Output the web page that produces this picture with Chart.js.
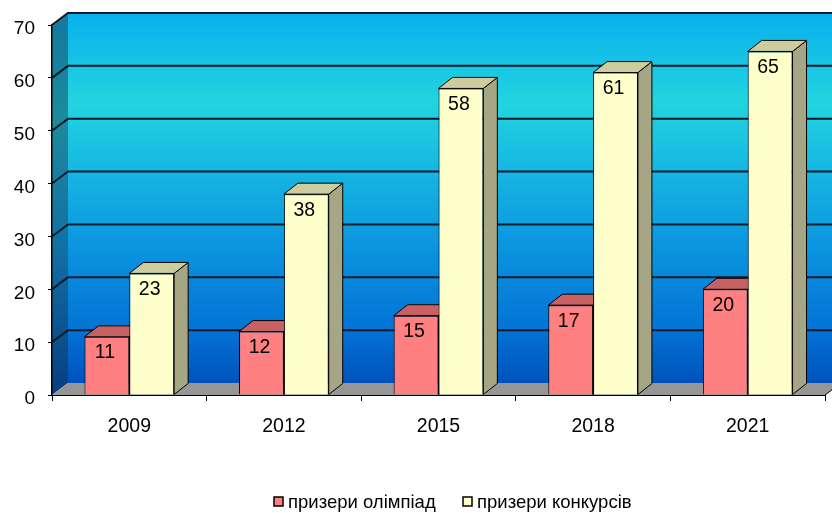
<!DOCTYPE html>
<html lang="uk">
<head>
  <meta charset="UTF-8">
  <title>Призери</title>
  <script src="https://cdn.jsdelivr.net/npm/chart.js"></script>
  <style>
    body { margin: 0; background: #fff; }
    canvas { display: block; }
  </style>
</head>
<body>
  <canvas id="prizeChart" width="832" height="513"></canvas>

  <script>
    const years = ['2009', '2012', '2015', '2018', '2021'];
    const olympiadWinners = [11, 12, 15, 17, 20];
    const contestWinners = [23, 38, 58, 61, 65];
    const yTicks = [0, 10, 20, 30, 40, 50, 60, 70];

    const FONT = "'Liberation Sans', Arial, sans-serif";
    const WALL = { dx: 16, dy: -12 };   // depth of back wall
    const BAR = { dx: 14, dy: -11 };    // depth of bars

    const barFaces = [
      { front: '#ff8080', top: '#c86262', side: '#a84c4c' },
      { front: '#ffffcc', top: '#cccc9e', side: '#a6a684' }
    ];

    function poly(ctx, pts, fill, stroke, lw) {
      ctx.beginPath();
      ctx.moveTo(pts[0][0], pts[0][1]);
      for (let i = 1; i < pts.length; i++) ctx.lineTo(pts[i][0], pts[i][1]);
      ctx.closePath();
      if (fill) { ctx.fillStyle = fill; ctx.fill(); }
      if (stroke) { ctx.strokeStyle = stroke; ctx.lineWidth = lw || 1; ctx.stroke(); }
    }

    // back wall, side wall, floor and grid lines in 3D
    const wallPlugin = {
      id: 'wall3d',
      beforeDraw(chart) {
        const ctx = chart.ctx;
        const a = chart.chartArea;
        const y = chart.scales.y;
        const W = chart.width;
        const L = a.left, B = a.bottom, T = a.top;
        ctx.save();

        // back wall
        const g = ctx.createLinearGradient(0, T + WALL.dy, 0, B + WALL.dy);
        g.addColorStop(0, '#08b0ec');
        g.addColorStop(0.24, '#22d4df');
        g.addColorStop(0.42, '#16b8e2');
        g.addColorStop(0.65, '#0a92de');
        g.addColorStop(0.85, '#0474d6');
        g.addColorStop(1, '#0052bc');
        ctx.fillStyle = g;
        ctx.fillRect(L + WALL.dx, T + WALL.dy, W - L - WALL.dx, B - T);

        // left wall
        const g2 = ctx.createLinearGradient(0, T, 0, B);
        g2.addColorStop(0, '#147a9e');
        g2.addColorStop(0.25, '#1e8a9c');
        g2.addColorStop(0.6, '#1270a4');
        g2.addColorStop(1, '#083e80');
        poly(ctx, [[L, T], [L + WALL.dx, T + WALL.dy], [L + WALL.dx, B + WALL.dy], [L, B]], g2);

        // top edge
        ctx.strokeStyle = '#a0a0a0';
        ctx.lineWidth = 2;
        ctx.beginPath();
        ctx.moveTo(L, T);
        ctx.lineTo(L + WALL.dx, T + WALL.dy);
        ctx.lineTo(W, T + WALL.dy);
        ctx.stroke();

        // floor
        poly(ctx, [[L, B], [L + WALL.dx, B + WALL.dy], [a.right + WALL.dx, B + WALL.dy], [a.right, B]], '#969696');
        ctx.strokeStyle = '#000';
        ctx.lineWidth = 1;
        ctx.beginPath();
        ctx.moveTo(a.right, B);
        ctx.lineTo(a.right + WALL.dx, B + WALL.dy);
        ctx.stroke();

        // grid lines on back wall + side wall
        ctx.strokeStyle = '#0a1a26';
        ctx.lineWidth = 2;
        yTicks.forEach(v => {
          if (v === 0) return;
          const py = y.getPixelForValue(v);
          ctx.beginPath();
          ctx.moveTo(L, py);
          ctx.lineTo(L + WALL.dx, py + WALL.dy);
          ctx.lineTo(W, py + WALL.dy);
          ctx.stroke();
        });
        ctx.restore();
      },
      beforeDatasetsDraw(chart) {
        const ctx = chart.ctx;
        ctx.save();
        chart.data.datasets.forEach((ds, i) => {
          const faces = barFaces[i];
          chart.getDatasetMeta(i).data.forEach(bar => {
            const l = bar.x - bar.width / 2, r = bar.x + bar.width / 2;
            const t = bar.y, b = bar.base;
            poly(ctx, [[r, t], [r + BAR.dx, t + BAR.dy], [r + BAR.dx, b + BAR.dy], [r, b]], faces.side, '#000', 1);
            poly(ctx, [[l, t], [l + BAR.dx, t + BAR.dy], [r + BAR.dx, t + BAR.dy], [r, t]], faces.top, '#000', 1);
          });
        });
        ctx.restore();
      },
      afterDatasetsDraw(chart) {
        const ctx = chart.ctx;
        ctx.save();
        ctx.font = '19.5px ' + FONT;
        ctx.fillStyle = '#000';
        ctx.textAlign = 'center';
        ctx.textBaseline = 'middle';
        chart.data.datasets.forEach((ds, i) => {
          chart.getDatasetMeta(i).data.forEach((bar, j) => {
            ctx.fillText(ds.data[j], bar.x - 2, bar.y + 16);
          });
        });

        // legend
        ctx.font = '18.5px ' + FONT;
        ctx.textAlign = 'left';
        ctx.textBaseline = 'alphabetic';
        const starts = [274, 463];
        chart.data.datasets.forEach((ds, i) => {
          const x0 = starts[i];
          ctx.fillStyle = barFaces[i].front;
          ctx.fillRect(x0, 497, 9, 9);
          ctx.strokeStyle = '#000';
          ctx.lineWidth = 1.5;
          ctx.strokeRect(x0, 497, 9, 9);
          ctx.fillStyle = '#000';
          ctx.fillText(ds.label, x0 + 14, 508);
        });
        ctx.restore();
      }
    };

    new Chart(document.getElementById('prizeChart'), {
      type: 'bar',
      data: {
        labels: years,
        datasets: [
          {
            label: 'призери олімпіад',
            data: olympiadWinners,
            backgroundColor: barFaces[0].front,
            borderColor: '#000',
            borderWidth: 1,
            categoryPercentage: 0.58,
            barPercentage: 1
          },
          {
            label: 'призери конкурсів',
            data: contestWinners,
            backgroundColor: barFaces[1].front,
            borderColor: '#000',
            borderWidth: 1,
            categoryPercentage: 0.58,
            barPercentage: 1
          }
        ]
      },
      options: {
        responsive: false,
        animation: false,
        devicePixelRatio: 1,
        layout: { padding: { top: 25, right: 7, left: 0, bottom: 0 } },
        plugins: {
          legend: { display: false },
          tooltip: { enabled: false }
        },
        scales: {
          x: {
            grid: { drawOnChartArea: false, tickLength: 6, color: '#000' },
            border: { color: '#000', width: 1 },
            ticks: { color: '#000', font: { size: 19.5, family: FONT }, padding: 14 },
            afterFit(s) { s.height = 118; }
          },
          y: {
            min: 0,
            max: 70,
            afterBuildTicks(s) { s.ticks = yTicks.map(v => ({ value: v })); },
            grid: { drawOnChartArea: false, tickLength: 4, color: '#000' },
            border: { color: '#000', width: 1.5 },
            ticks: { color: '#000', font: { size: 19, family: FONT }, padding: 13, labelOffset: 4 },
            afterFit(s) { s.width = 52; }
          }
        }
      },
      plugins: [wallPlugin]
    });
  </script>
</body>
</html>
